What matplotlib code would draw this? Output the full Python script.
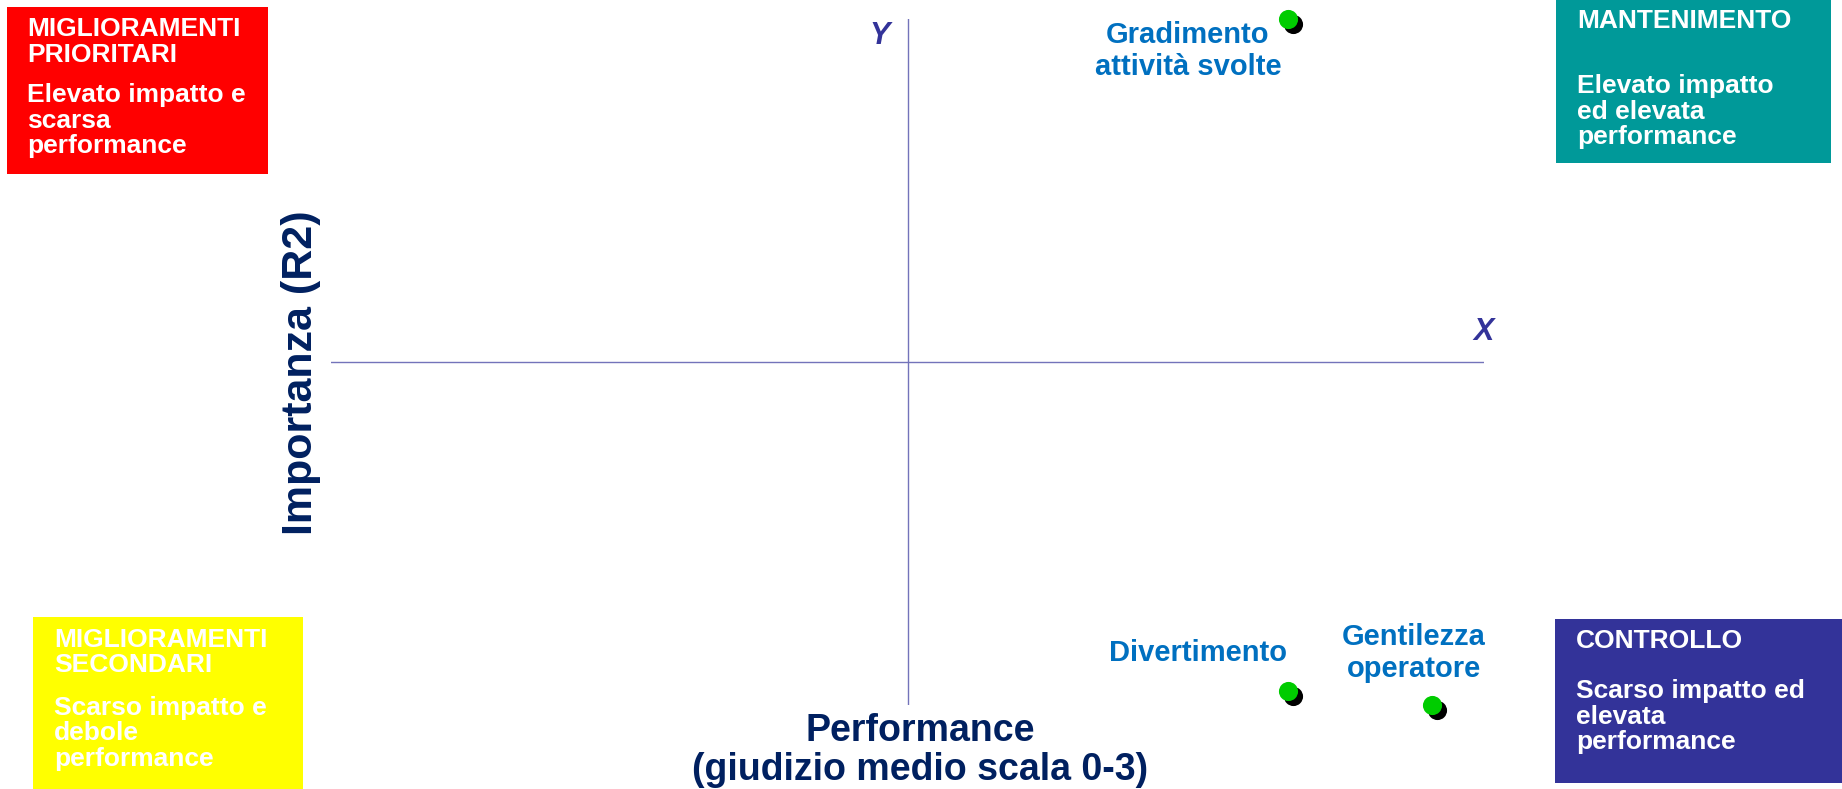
import numpy as np
import matplotlib.pyplot as plt
from matplotlib.patches import Rectangle
import matplotlib.transforms as mtransforms

plt.rcParams['font.family'] = ['Liberation Sans', 'DejaVu Sans']

# data
items = ['Gradimento\nattività svolte', 'Divertimento', 'Gentilezza\noperatore']
performance = [2.66, 2.66, 2.91]
importanza = [0.50, 0.01, 0.00]
perf_lim = (1.0, 3.0)
imp_lim = (0.0, 0.5)
perf_mid = 2.0
imp_mid = 0.25

quad_titles = ['MIGLIORAMENTI\nPRIORITARI', 'MANTENIMENTO',
               'MIGLIORAMENTI\nSECONDARI', 'CONTROLLO']
quad_texts = ['Elevato impatto e\nscarsa\nperformance',
              'Elevato impatto\ned elevata\nperformance',
              'Scarso impatto e\ndebole\nperformance',
              'Scarso impatto ed\nelevata\nperformance']
quad_colors = ['#FF0000', '#009999', '#FFFF00', '#333399']

# layout (pixels of the 1842x789 canvas)
W, H = 1842, 789
boxes = [(7, 7, 268, 174), (1556, 0, 1831, 163), (33, 617, 303, 789), (1555, 619, 1842, 783)]
text_pos = [(27, 36, 102), (1577, 28, 93), (54, 647, 715), (1576, 648, 698)]
line_step = 25.5
label_offsets = [(-100, -32), (-90, 38), (-18, 52)]

axis_col = '#7373BA'
lab_col = '#002060'
pt_col = '#0070C0'

fig = plt.figure(figsize=(W / 100, H / 100), dpi=100)

# background layer for the quadrant boxes
bg = fig.add_axes([0, 0, 1, 1])
bg.set_xlim(0, W)
bg.set_ylim(H, 0)
bg.axis('off')

for (x0, y0, x1, y1), col in zip(boxes, quad_colors):
    bg.add_patch(Rectangle((x0, y0), x1 - x0, y1 - y0, facecolor=col, edgecolor='none'))

for (tx, hy, by), title, body in zip(text_pos, quad_titles, quad_texts):
    for i, line in enumerate(title.split('\n')):
        bg.text(tx, hy + i * line_step, line, ha='left', va='baseline',
                fontsize=19, fontweight='bold', color='white')
    for i, line in enumerate(body.split('\n')):
        bg.text(tx, by + i * line_step, line, ha='left', va='baseline',
                fontsize=19, fontweight='bold', color='white')

bg.text(301, 373, 'Importanza (R2)', rotation=90, ha='center', va='center',
        fontsize=31, fontweight='bold', color=lab_col)
bg.text(920, 713, 'Performance\n(giudizio medio scala 0-3)', ha='center', va='top',
        fontsize=27, fontweight='bold', color=lab_col, linespacing=1.1)

# main quadrant axes
ax = fig.add_axes([331 / W, (H - 705) / H, 1153 / W, 686 / H])
ax.set_xlim(*perf_lim)
ax.set_ylim(*imp_lim)
ax.axis('off')
ax.patch.set_alpha(0)

ax.axhline(imp_mid, color=axis_col, lw=1)
ax.axvline(perf_mid, color=axis_col, lw=1)

ax.annotate('X', xy=(perf_lim[1], imp_mid), xytext=(0, 22), textcoords='offset pixels',
            ha='center', va='baseline', fontsize=22, fontweight='bold',
            fontstyle='italic', color='#333399')
ax.annotate('Y', xy=(perf_mid, imp_lim[1]), xytext=(-18, -2), textcoords='offset pixels',
            ha='right', va='top', fontsize=22, fontweight='bold',
            fontstyle='italic', color='#333399')

# points with a small drop shadow
shadow = ax.transData + mtransforms.ScaledTranslation(5 / 100, -5 / 100, fig.dpi_scale_trans)
ax.scatter(performance, importanza, s=190, color='black', linewidths=0,
           transform=shadow, clip_on=False, zorder=3)
ax.scatter(performance, importanza, s=190, color='#00CC00', linewidths=0,
           clip_on=False, zorder=4)

for name, x, y, off in zip(items, performance, importanza, label_offsets):
    ax.annotate(name, xy=(x, y), xytext=off, textcoords='offset pixels',
                ha='center', va='center', fontsize=21, fontweight='bold',
                color=pt_col, linespacing=1.15)

fig.savefig('out.png', dpi=100)
